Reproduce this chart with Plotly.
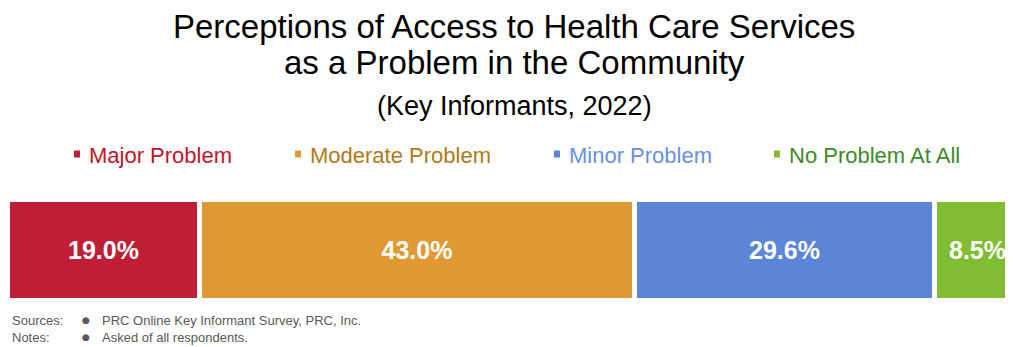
import plotly.graph_objects as go

# data
categories = ["Major Problem", "Moderate Problem", "Minor Problem", "No Problem At All"]
values = [19.0, 43.0, 29.6, 8.5]
bar_colors = ["#bf1e37", "#e09a35", "#5b85d6", "#80bd32"]
text_colors = ["#c0152b", "#b07a1a", "#6a8fe0", "#3e8a28"]

title_lines = ["Perceptions of Access to Health Care Services", "as a Problem in the Community"]
subtitle = "(Key Informants, 2022)"
source_note = "PRC Online Key Informant Survey, PRC, Inc."
notes_note = "Asked of all respondents."

# page has an 8px body margin, so the figure sits at (8, 8)
OFF = 8
W, H = 1005, 339
L, R, T, B = 0, 0, 192, 46

def px(x):
    # page pixel -> paper x
    return (x - OFF - L) / (W - L - R)

def py(y):
    # page pixel (from top) -> paper y
    return (H - B - (y - OFF)) / (H - T - B)

fig = go.Figure()
for cat, val, col in zip(categories, values, bar_colors):
    fig.add_trace(go.Bar(
        y=["all"], x=[val], name=cat, orientation="h",
        marker=dict(color=col, line=dict(color="white", width=5)),
        text=[f"{val:.1f}%"], textposition="inside", insidetextanchor="middle",
        textfont=dict(family="Liberation Sans, Arial", size=25, color="white"),
        texttemplate="<b>%{text}</b>",
        showlegend=False,
    ))

fig.update_layout(
    barmode="stack", bargap=0,
    width=W, height=H,
    margin=dict(l=L, r=R, t=T, b=B),
    paper_bgcolor="white", plot_bgcolor="white",
    font=dict(family="Liberation Sans, Arial", color="#000"),
    xaxis=dict(range=[0, 99.3], visible=False, fixedrange=True),
    yaxis=dict(visible=False, fixedrange=True),
    uniformtext=dict(mode="show", minsize=10),
)

# title
fig.add_annotation(text=title_lines[0], x=px(514), y=py(27), xref="paper", yref="paper",
                   showarrow=False, font=dict(size=33), xanchor="center", yanchor="middle")
fig.add_annotation(text=title_lines[1], x=px(514), y=py(62), xref="paper", yref="paper",
                   showarrow=False, font=dict(size=33), xanchor="center", yanchor="middle")
fig.add_annotation(text=subtitle, x=px(514), y=py(106), xref="paper", yref="paper",
                   showarrow=False, font=dict(size=27), xanchor="center", yanchor="middle")

# legend (custom, coloured text)
legend_x = [77, 298, 557, 777]
for cat, bc, tc, lx in zip(categories, bar_colors, text_colors, legend_x):
    fig.add_shape(type="rect", xref="paper", yref="paper",
                  x0=px(lx - 3), x1=px(lx + 3), y0=py(157.5), y1=py(150.5),
                  fillcolor=bc, line=dict(width=0))
    fig.add_annotation(text=cat, x=px(lx + 10), y=py(155), xref="paper", yref="paper",
                       showarrow=False, font=dict(size=22, color=tc),
                       xanchor="left", yanchor="middle")

# footnotes
for label, note, y in [("Sources:", source_note, 320), ("Notes:", notes_note, 337)]:
    fig.add_annotation(text=label, x=px(10), y=py(y), xref="paper", yref="paper",
                       showarrow=False, font=dict(size=13, color="#595959"),
                       xanchor="left", yanchor="middle")
    fig.add_annotation(text="●", x=px(80), y=py(y), xref="paper", yref="paper",
                       showarrow=False, font=dict(size=9, color="#595959", family="DejaVu Sans"),
                       xanchor="left", yanchor="middle")
    fig.add_annotation(text=note, x=px(100), y=py(y), xref="paper", yref="paper",
                       showarrow=False, font=dict(size=13, color="#595959"),
                       xanchor="left", yanchor="middle")

fig.write_html("out.html")
